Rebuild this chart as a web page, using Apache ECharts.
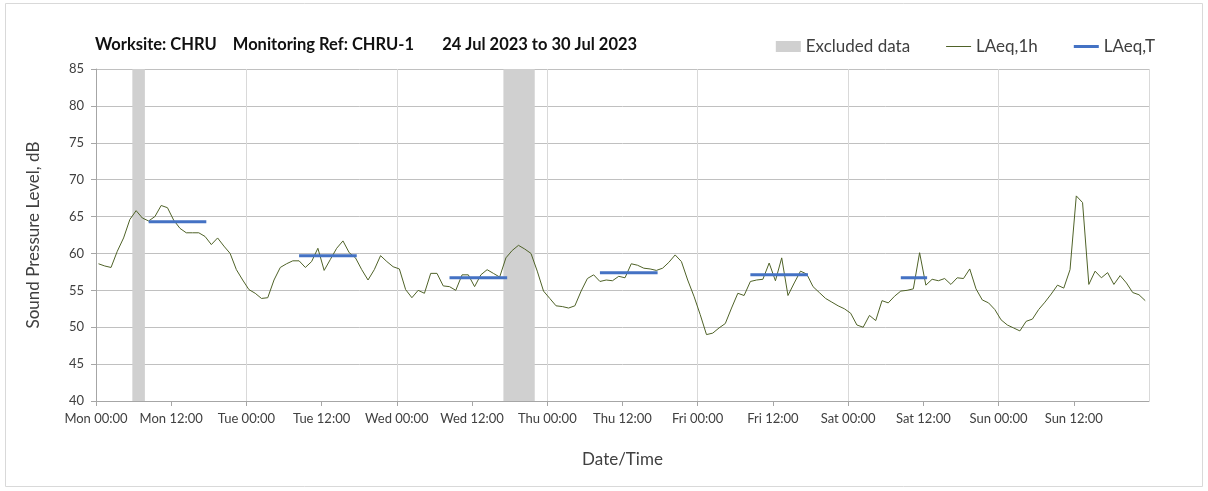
<!DOCTYPE html>
<html>
<head>
<meta charset="utf-8">
<script src="https://cdn.jsdelivr.net/npm/echarts@6/dist/echarts.min.js"></script>
<style>
    html, body { margin: 0; padding: 0; background: #fff; }
    #main { width: 1208px; height: 491px; }
</style>
</head>
<body>
<div id="main"></div>
<script>
'use strict';

// 横轴：小时（从周一 00:00 起）
var dayNames = ['Mon', 'Tue', 'Wed', 'Thu', 'Fri', 'Sat', 'Sun', 'Mon'];

// LAeq,1h 每小时数据（dB）
var laeq1h = [
    58.6, 58.3, 58.1, 60.3, 62.1, 64.6, 65.8, 64.8, 64.4, 65.0, 66.5, 66.2, 64.5, 63.4, 62.8, 62.8, 62.8, 62.3, 61.2, 62.1, 61.0, 60.0, 57.8, 56.4,
    55.1, 54.6, 53.9, 54.0, 56.4, 58.1, 58.6, 59.0, 59.0, 58.1, 58.9, 60.7, 57.7, 59.2, 60.7, 61.7, 60.1, 59.4, 57.8, 56.4, 57.8, 59.7, 58.9, 58.2,
    57.9, 55.1, 54.0, 55.0, 54.6, 57.3, 57.3, 55.6, 55.5, 55.0, 57.1, 57.1, 55.5, 57.1, 57.8, 57.3, 56.8, 59.4, 60.4, 61.1, 60.6, 60.0, 57.6, 54.9,
    53.9, 52.9, 52.8, 52.6, 52.9, 54.9, 56.6, 57.1, 56.2, 56.4, 56.3, 56.9, 56.7, 58.6, 58.4, 58.0, 57.9, 57.7, 58.0, 58.8, 59.8, 58.9, 56.4, 54.2,
    51.7, 49.0, 49.2, 49.9, 50.5, 52.6, 54.6, 54.3, 56.2, 56.4, 56.5, 58.7, 56.3, 59.4, 54.3, 56.0, 57.6, 57.2, 55.5, 54.7, 53.9, 53.4, 52.9, 52.5,
    51.9, 50.3, 50.0, 51.6, 50.9, 53.6, 53.3, 54.2, 54.9, 55.0, 55.2, 60.1, 55.7, 56.5, 56.3, 56.6, 55.8, 56.7, 56.6, 57.9, 55.2, 53.7, 53.3, 52.4,
    51.0, 50.3, 49.9, 49.5, 50.8, 51.1, 52.4, 53.4, 54.5, 55.7, 55.3, 57.8, 67.8, 66.9, 55.8, 57.6, 56.7, 57.4, 55.8, 57.0, 56.0, 54.7, 54.4, 53.6
];

// LAeq,T 各时段（开始/结束小时, 数值）
var periodStart = [8.4, 32.4, 56.4, 80.4, 104.4, 128.4];
var periodEnd = [17.6, 41.6, 65.6, 89.6, 113.6, 132.6];
var laeqT = [64.3, 59.7, 56.7, 57.4, 57.1, 56.7];

// 排除数据时段
var excludedStart = [5.8, 65];
var excludedEnd = [7.8, 70];

var yTicks = [40, 45, 50, 55, 60, 65, 70, 75, 80, 85];

$init();

function $init() {
    var hourlyData = laeq1h.map(function(v, i) {
        return [i + 0.4, v];
    });

    var periodData = [];
    for (var i = 0; i < laeqT.length; i++) {
        periodData.push([periodStart[i], laeqT[i]]);
        periodData.push([periodEnd[i], laeqT[i]]);
        periodData.push([periodEnd[i], '-']);
    }

    var excludedAreas = excludedStart.map(function(s, i) {
        return [{ xAxis: s }, { xAxis: excludedEnd[i] }];
    });

    var textColor = '#404040';
    var font = 'Lato, "Open Sans", sans-serif';

    var option = {
        animation: false,
        textStyle: { fontFamily: font },
        title: {
            text: 'Worksite: CHRU    Monitoring Ref: CHRU-1       24 Jul 2023 to 30 Jul 2023',
            left: 90,
            top: 31,
            textStyle: {
                color: '#111',
                fontSize: 16.5,
                fontWeight: 'bold',
                fontFamily: font
            }
        },
        legend: {
            right: 48,
            top: 33,
            itemWidth: 25,
            itemHeight: 14,
            itemGap: 36,
            textStyle: { color: textColor, fontSize: 17, fontFamily: font },
            data: [
                { name: 'Excluded data', icon: 'path://M0,0H25V11H0Z' },
                { name: 'LAeq,1h', icon: 'path://M0,0H25V1H0Z' },
                { name: 'LAeq,T', icon: 'path://M0,0H25V3H0Z' }
            ]
        },
        grid: {
            left: 96,
            right: 59,
            top: 69,
            bottom: 90
        },
        xAxis: [{
            type: 'value',
            min: 0,
            max: 168,
            interval: 12,
            name: 'Date/Time',
            nameLocation: 'middle',
            nameGap: 50,
            nameTextStyle: { color: textColor, fontSize: 17 },
            axisLine: { show: true, lineStyle: { color: '#a6a6a6' } },
            axisTick: { show: true, length: 5, lineStyle: { color: '#a6a6a6' } },
            axisLabel: {
                color: textColor,
                fontSize: 13,
                margin: 11,
                showMaxLabel: false,
                formatter: function(v) {
                    var d = Math.floor(v / 24);
                    return dayNames[d] + ' ' + (v % 24 === 0 ? '00:00' : '12:00');
                }
            },
            splitLine: { show: false }
        }, {
            type: 'value',
            min: 0,
            max: 168,
            interval: 24,
            position: 'bottom',
            axisLine: { show: false },
            axisTick: { show: false },
            axisLabel: { show: false },
            splitLine: { show: true, lineStyle: { color: '#d9d9d9' } }
        }],
        yAxis: {
            type: 'value',
            min: yTicks[0],
            max: yTicks[yTicks.length - 1],
            interval: 5,
            name: 'Sound Pressure Level, dB',
            nameLocation: 'middle',
            nameGap: 54,
            nameTextStyle: { color: textColor, fontSize: 17 },
            axisLine: { show: true, lineStyle: { color: '#a6a6a6' } },
            axisTick: { show: true, length: 5, lineStyle: { color: '#a6a6a6' } },
            axisLabel: { color: textColor, fontSize: 13, margin: 12 },
            splitLine: { show: true, lineStyle: { color: '#c0c0c0' } }
        },
        series: [{
            name: 'Excluded data',
            type: 'line',
            data: [],
            itemStyle: { color: '#d0d0d0' },
            markArea: {
                silent: true,
                itemStyle: { color: '#d0d0d0' },
                data: excludedAreas
            }
        }, {
            name: 'LAeq,1h',
            type: 'line',
            data: hourlyData,
            showSymbol: false,
            itemStyle: { color: '#4f6228' },
            lineStyle: { color: '#4f6228', width: 1 }
        }, {
            name: 'LAeq,T',
            type: 'line',
            data: periodData,
            showSymbol: false,
            connectNulls: false,
            itemStyle: { color: '#4472c4' },
            lineStyle: { color: '#4472c4', width: 3 }
        }],
        graphic: [{
            type: 'rect',
            shape: { x: 5.5, y: 3.5, width: 1197, height: 483 },
            style: { fill: 'none', stroke: '#d9d9d9', lineWidth: 1 },
            silent: true
        }]
    };

    var myChart = echarts.init(document.getElementById('main'));
    myChart.setOption(option);
}
</script>
</body>
</html>
